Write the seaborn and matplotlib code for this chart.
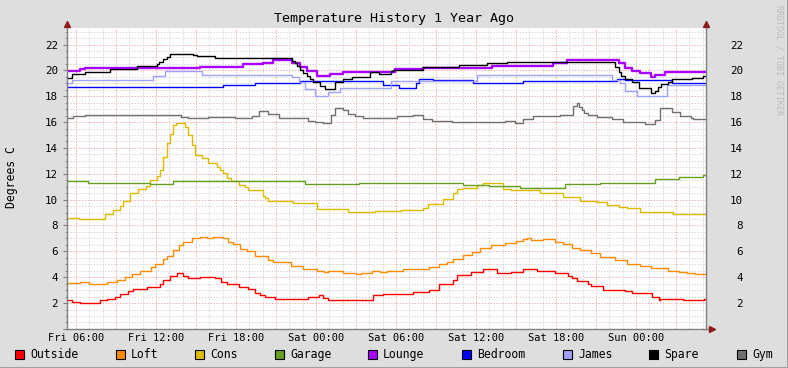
import numpy as np
import pandas as pd
import matplotlib
matplotlib.use("Agg")
import matplotlib.pyplot as plt
import seaborn as sns
from matplotlib.patches import Rectangle
from matplotlib.lines import Line2D
from matplotlib.ticker import NullLocator

# ---------------- data (hours after Fri 06:00, degrees C) ----------------
outside = [(-0.68, 2.2), (-0.3, 2.05), (0.3, 2.0), (1.8, 2.2), (2.3, 2.3), (2.9, 2.5), (3.3, 2.7),
           (3.9, 2.9), (4.3, 3.05), (5.3, 3.25), (6.3, 3.5), (6.5, 3.8), (7.05, 4.1), (7.6, 4.3),
           (8.0, 4.1), (8.4, 3.9), (9.3, 4.0), (9.9, 4.05), (10.4, 3.95), (10.9, 3.65), (11.3, 3.45),
           (12.2, 3.25), (12.9, 3.05), (13.4, 2.8), (13.8, 2.6), (14.2, 2.45), (14.9, 2.35),
           (17.4, 2.45), (18.2, 2.6), (18.5, 2.4), (18.9, 2.25), (20.6, 2.2), (22.3, 2.6), (23.0, 2.7),
           (25.3, 2.85), (26.5, 3.0), (27.2, 3.45), (28.3, 3.8), (28.6, 4.2), (29.6, 4.4), (30.5, 4.6),
           (31.6, 4.35), (32.6, 4.4), (33.5, 4.6), (34.6, 4.5), (35.9, 4.3), (36.9, 4.1), (37.2, 3.9),
           (37.6, 3.7), (38.4, 3.5), (38.6, 3.35), (39.5, 3.0), (41.2, 2.9), (41.7, 2.75), (43.2, 2.5),
           (43.7, 2.2), (43.8, 2.3), (45.5, 2.2), (47.1, 2.3), (47.3, 2.3)]

loft = [(-0.68, 3.57), (0.3, 3.65), (0.8, 3.6), (1.0, 3.5), (2.3, 3.6), (3.1, 3.78), (3.7, 4.03),
        (4.2, 4.25), (4.8, 4.5), (5.6, 4.76), (5.9, 5.0), (6.5, 5.4), (6.8, 5.66), (7.3, 6.1),
        (7.7, 6.5), (8.0, 6.75), (8.7, 7.0), (9.3, 7.13), (9.8, 7.0), (10.3, 7.13), (11.0, 7.05),
        (11.4, 6.75), (11.8, 6.55), (12.3, 6.2), (12.8, 6.0), (13.4, 5.65), (14.4, 5.33), (14.8, 5.15),
        (16.1, 4.87), (17.0, 4.6), (18.1, 4.48), (18.6, 4.4), (18.9, 4.5), (19.5, 4.45), (20.0, 4.35),
        (20.6, 4.3), (21.0, 4.22), (21.4, 4.35), (21.8, 4.3), (22.2, 4.45), (22.8, 4.4), (23.3, 4.5),
        (24.5, 4.63), (26.5, 4.75), (27.2, 5.0), (27.8, 5.15), (28.3, 5.4), (29.0, 5.7), (29.7, 5.97),
        (30.3, 6.23), (31.1, 6.5), (32.2, 6.67), (33.0, 6.8), (33.5, 6.93), (33.8, 7.05), (34.1, 6.88),
        (35.0, 6.93), (35.9, 6.75), (36.5, 6.55), (37.2, 6.28), (37.8, 6.1), (38.6, 5.85), (39.3, 5.6),
        (40.4, 5.33), (41.3, 5.0), (42.3, 4.87), (43.1, 4.68), (44.4, 4.5), (45.2, 4.42), (45.8, 4.35),
        (46.4, 4.28), (47.0, 4.22), (47.3, 4.22)]

cons = [(-0.68, 8.55), (0.2, 8.48), (2.2, 8.86), (2.8, 9.2), (3.3, 9.5), (3.5, 9.9), (4.05, 10.5),
        (4.65, 10.8), (5.25, 11.05), (5.55, 11.5), (6.1, 11.8), (6.3, 12.3), (6.5, 13.3), (6.8, 14.35),
        (7.05, 15.1), (7.3, 15.8), (7.5, 15.9), (8.2, 15.6), (8.4, 15.0), (8.7, 14.2), (8.9, 13.45),
        (9.45, 13.2), (9.9, 12.85), (10.55, 12.55), (10.8, 12.3), (11.0, 12.03), (11.3, 11.65),
        (11.6, 11.44), (12.2, 11.13), (12.7, 10.95), (12.9, 10.74), (14.0, 10.28), (14.2, 10.1),
        (14.4, 9.92), (16.3, 9.76), (18.1, 9.3), (20.4, 9.06), (22.4, 9.14), (24.4, 9.22), (26.0, 9.37),
        (26.4, 9.63), (27.5, 10.05), (28.3, 10.5), (28.6, 10.82), (29.0, 10.9), (30.1, 11.13),
        (30.5, 11.28), (32.0, 10.8), (32.6, 10.72), (34.8, 10.53), (36.5, 10.18), (37.8, 9.9),
        (39.1, 9.8), (39.8, 9.58), (40.7, 9.45), (41.3, 9.33), (42.3, 9.06), (44.8, 8.86), (47.3, 8.86)]

garage = [(-0.68, 11.46), (0.9, 11.26), (5.55, 11.2), (7.3, 11.46), (17.2, 11.2), (21.2, 11.28),
          (29.0, 11.13), (31.0, 11.05), (33.3, 10.87), (36.7, 11.18), (39.3, 11.28), (43.4, 11.57),
          (45.2, 11.77), (47.0, 11.87), (47.3, 11.87)]

lounge = [(-0.68, 19.97), (0.3, 20.08), (0.7, 20.2), (9.3, 20.28), (12.5, 20.46), (14.0, 20.59),
          (14.8, 20.8), (16.2, 20.54), (16.8, 20.28), (17.3, 19.97), (18.1, 19.56), (19.05, 19.69),
          (20.0, 19.87), (23.9, 20.08), (26.0, 20.18), (31.2, 20.35), (35.8, 20.59), (36.8, 20.8),
          (40.7, 20.59), (41.2, 20.2), (41.7, 19.95), (42.3, 19.8), (43.1, 19.5), (43.4, 19.64),
          (44.2, 19.9), (47.3, 19.9)]

bedroom = [(-0.68, 18.7), (11.0, 18.86), (13.4, 19.0), (16.8, 19.2), (23.0, 18.86), (24.2, 18.6),
           (25.5, 19.0), (25.7, 19.35), (26.8, 19.22), (29.8, 19.0), (33.5, 19.17), (40.6, 19.33),
           (41.2, 19.27), (42.5, 19.22), (44.7, 19.0), (47.3, 19.0)]

james = [(-0.68, 19.0), (-0.3, 19.22), (5.8, 19.58), (6.7, 19.97), (9.45, 19.66), (16.2, 19.46),
         (16.7, 19.07), (17.2, 18.53), (17.9, 18.0), (18.9, 18.35), (19.8, 18.65), (23.6, 19.2),
         (30.1, 19.64), (40.2, 19.25), (40.8, 19.04), (41.2, 18.42), (42.1, 18.0), (44.3, 18.86),
         (47.3, 18.86)]

spare = [(-0.68, 19.38), (-0.3, 19.7), (0.7, 19.9), (2.55, 20.08), (4.6, 20.3), (6.1, 20.49),
         (6.2, 20.64), (6.5, 20.85), (6.8, 21.05), (7.05, 21.3), (8.8, 21.2), (9.1, 21.08),
         (10.4, 20.93), (16.2, 20.75), (16.4, 20.54), (16.6, 20.33), (16.8, 20.02), (17.0, 19.77),
         (17.3, 19.56), (17.55, 19.3), (17.8, 19.12), (18.3, 18.79), (18.7, 18.55), (19.4, 19.12),
         (20.0, 19.3), (20.7, 19.46), (22.05, 19.85), (22.7, 19.69), (23.6, 19.95), (23.8, 20.02),
         (26.0, 20.23), (28.7, 20.4), (30.8, 20.54), (32.3, 20.64), (40.4, 20.28), (40.7, 19.9),
         (40.9, 19.58), (41.2, 19.3), (41.7, 19.12), (42.2, 18.6), (43.1, 18.27), (43.4, 18.42),
         (43.65, 18.73), (43.9, 18.94), (44.4, 19.12), (44.7, 19.3), (46.2, 19.42), (47.0, 19.58),
         (47.3, 19.58)]

gym = [(-0.68, 16.29), (-0.2, 16.44), (0.7, 16.52), (7.9, 16.42), (8.4, 16.29), (9.9, 16.42),
       (11.9, 16.29), (13.2, 16.49), (13.7, 16.83), (14.4, 16.62), (15.2, 16.29), (17.4, 16.1),
       (17.9, 16.03), (18.5, 15.9), (19.1, 16.54), (19.4, 17.06), (20.0, 16.93), (20.4, 16.62),
       (20.9, 16.47), (21.5, 16.29), (24.1, 16.44), (25.3, 16.52), (26.0, 16.26), (26.7, 16.1),
       (28.2, 15.98), (32.2, 16.1), (32.9, 15.9), (33.5, 16.2), (34.3, 16.44), (36.3, 16.52),
       (37.3, 17.24), (37.6, 17.5), (37.7, 17.2), (37.95, 16.93), (38.1, 16.72), (38.4, 16.54),
       (39.1, 16.42), (40.2, 16.23), (41.0, 16.03), (41.9, 15.98), (42.7, 15.82), (43.4, 16.19),
       (43.8, 17.1), (44.7, 16.8), (45.3, 16.47), (46.1, 16.34), (46.3, 16.26), (47.3, 16.26)]

series_names = ["Outside", "Loft", "Cons", "Garage", "Lounge", "Bedroom", "James", "Spare", "Gym"]
series_data = [outside, loft, cons, garage, lounge, bedroom, james, spare, gym]
series_colors = ["#FF0000", "#FF8C00", "#DDBB00", "#66A01E", "#AA00FF", "#0000FF", "#A0A0FF",
                 "#000000", "#707070"]

x_tick_labels = ["Fri 06:00", "Fri 12:00", "Fri 18:00", "Sat 00:00", "Sat 06:00",
                 "Sat 12:00", "Sat 18:00", "Sun 00:00"]
y_ticks = [0, 2, 4, 6, 8, 10, 12, 14, 16, 18, 20, 22]
y_tick_labels = ["", "2", "4", "6", "8", "10", "12", "14", "16", "18", "20", "22"]

title = "Temperature History 1 Year Ago"
y_title = "Degrees C"

# ---------------- style ----------------
sns.set_theme(style="white")
plt.rcParams["font.family"] = ["DejaVu Sans Mono", "DejaVu Sans"]

W, H = 788, 368
BG = "#DEDEDE"
fig = plt.figure(figsize=(W / 100, H / 100), dpi=100, facecolor=BG)
ax = fig.add_axes([67 / W, (H - 328.9) / H, 639 / W, 301.2 / H])
ax.set_facecolor("white")

for name, pts, col in zip(series_names, series_data, series_colors):
    df = pd.DataFrame(pts, columns=["t", "v"])
    lw = 1.7 if name == "Lounge" else 1.0
    sns.lineplot(data=df, x="t", y="v", ax=ax, color=col, lw=lw, drawstyle="steps-post",
                 estimator=None, sort=False, legend=False)

ax.set_xlim(-0.675, 47.26)
ax.set_ylim(0, 23.3)
ax.set_xlabel("")
ax.set_ylabel("")

xmaj = np.arange(0, 46, 3)
xlabs = [x_tick_labels[i // 2] if i % 2 == 0 else "" for i in range(len(xmaj))]
ax.set_xticks(xmaj, xlabs)
ax.set_xticks(np.arange(0, 48, 1), minor=True)
ax.set_yticks(y_ticks, y_tick_labels)
ax.set_yticks(np.arange(0, 23.3, 0.5), minor=True)

ax.grid(which="minor", color="#D6D6D6", linestyle=(0, (1.5, 1.5)), lw=0.7)
ax.grid(which="major", color="#F2B0B0", linestyle=(0, (1.5, 1.5)), lw=0.7)
ax.set_axisbelow(True)

for s in ["left", "bottom", "right"]:
    ax.spines[s].set_color("#808080")
    ax.spines[s].set_linewidth(1.0)
ax.spines["top"].set_visible(False)

ax.tick_params(axis="x", which="both", length=0, pad=3.0, labelsize=7.5, labelcolor="black")
ax.tick_params(axis="y", which="major", length=3, width=0.8, color="#808080", pad=3.6,
               labelsize=7.8, labelcolor="black", left=True, right=False)
ax.tick_params(axis="y", which="minor", length=1.5, width=0.6, color="#808080", left=True, right=False)

ax2 = ax.twinx()
ax2.set_ylim(0, 23.3)
ax2.set_yticks(y_ticks, y_tick_labels, ha="right")
ax2.yaxis.set_minor_locator(NullLocator())
ax2.tick_params(axis="y", length=0, pad=26.6, labelsize=7.8, labelcolor="black")
for s in ax2.spines.values():
    s.set_visible(False)
ax2.grid(False)

# axis arrows
arrow_c = "#8B1A1A"
ax.plot([0, 0], [1.0, 1.012], transform=ax.transAxes, color="#808080", lw=1.0, clip_on=False)
ax.plot([1, 1], [1.0, 1.012], transform=ax.transAxes, color="#808080", lw=1.0, clip_on=False)
ax.plot([0], [1.0 + 4 / 301.2], marker="^", ms=4.5, color=arrow_c, transform=ax.transAxes, clip_on=False)
ax.plot([1], [1.0 + 4 / 301.2], marker="^", ms=4.5, color=arrow_c, transform=ax.transAxes, clip_on=False)
ax.plot([1, 1.006], [0, 0], transform=ax.transAxes, color="#808080", lw=1.0, clip_on=False)
ax.plot([1.0 + 5.5 / 639], [0], marker=">", ms=4.5, color=arrow_c, transform=ax.transAxes, clip_on=False)

# texts
fig.text(393.5 / W, 1 - 18.5 / H, title, ha="center", va="center", fontsize=9.6, color="black")
fig.text(11 / W, 1 - 177 / H, y_title, rotation=90, ha="center", va="center", fontsize=8.3, color="black")
fig.text(778.5 / W, 1 - 60 / H, "RRDTOOL / TOBI OETIKER", rotation=270, ha="center", va="center",
         fontsize=6, color="#BBBBBB")

# legend
leg_x = [15, 116, 195, 275, 368, 462, 563, 649, 737]
for x0, name, col in zip(leg_x, series_names, series_colors):
    fig.add_artist(Rectangle((x0 / W, (H - 358.5) / H), 8.5 / W, 8.5 / H, transform=fig.transFigure,
                             facecolor=col, edgecolor="black", lw=0.8))
    fig.text((x0 + 15) / W, 1 - 354.5 / H, name, ha="left", va="center", fontsize=8.3, color="black")

# border shading
fig.add_artist(Line2D([0, 1], [0.5 / H, 0.5 / H], transform=fig.transFigure, color="#A0A0A0", lw=1.5))
fig.add_artist(Line2D([1 - 0.5 / W, 1 - 0.5 / W], [0, 1], transform=fig.transFigure, color="#A0A0A0", lw=1.5))

fig.savefig("out.png", dpi=100, facecolor=fig.get_facecolor())
